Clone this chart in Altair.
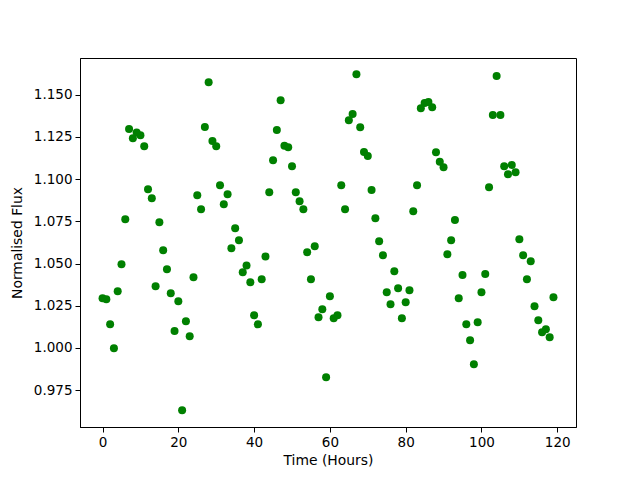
import altair as alt
import pandas as pd

hours = list(range(120))
flux = [
    1.0294, 1.0288, 1.0140, 0.9998, 1.0336, 1.0496, 1.0762, 1.1296, 1.1242, 1.1276,
    1.1260, 1.1195, 1.0940, 1.0887, 1.0366, 1.0745, 1.0579, 1.0466, 1.0324, 1.0101,
    1.0277, 0.9631, 1.0158, 1.0069, 1.0419, 1.0905, 1.0822, 1.1309, 1.1574, 1.1226,
    1.1195, 1.0964, 1.0851, 1.0910, 1.0591, 1.0709, 1.0638, 1.0448, 1.0488, 1.0389,
    1.0194, 1.0140, 1.0407, 1.0541, 1.0922, 1.1112, 1.1290, 1.1467, 1.1197, 1.1189,
    1.1076, 1.0922, 1.0869, 1.0822, 1.0567, 1.0407, 1.0602, 1.0182, 1.0229, 0.9826,
    1.0306, 1.0176, 1.0194, 1.0964, 1.0822, 1.1349, 1.1386, 1.1621, 1.1307, 1.1161,
    1.1136, 1.0936, 1.0768, 1.0632, 1.0549, 1.0330, 1.0259, 1.0454, 1.0354, 1.0176,
    1.0271, 1.0342, 1.0810, 1.0964, 1.1420, 1.1450, 1.1457, 1.1426, 1.1159, 1.1102,
    1.1070, 1.0555, 1.0638, 1.0757, 1.0294, 1.0432, 1.0140, 1.0046, 0.9903, 1.0152,
    1.0330, 1.0438, 1.0952, 1.1379, 1.1610, 1.1379, 1.1076, 1.1029, 1.1084, 1.1040,
    1.0644, 1.0549, 1.0407, 1.0514, 1.0247, 1.0164, 1.0093, 1.0111, 1.0063, 1.0300,
]
x_ticks = [0, 20, 40, 60, 80, 100, 120]
y_ticks = [0.975, 1.000, 1.025, 1.050, 1.075, 1.100, 1.125, 1.150]

df = pd.DataFrame({"Time": hours, "Flux": flux})

chart = alt.Chart(df).mark_circle(size=64, color="#008000", opacity=1).encode(
    x=alt.X("Time:Q", title="Time (Hours)",
            scale=alt.Scale(domain=[-5.95, 124.95], nice=False, zero=False),
            axis=alt.Axis(values=x_ticks, format="d")),
    y=alt.Y("Flux:Q", title="Normalised Flux",
            scale=alt.Scale(domain=[0.9532, 1.1717], nice=False, zero=False),
            axis=alt.Axis(values=y_ticks, format=".3f")),
).properties(
    width=496, height=369,
    autosize=alt.AutoSizeParams(type="none"),
    padding={"left": 72, "top": 50, "right": 56, "bottom": 45},
).configure_view(
    stroke="black", strokeWidth=1
).configure_axis(
    grid=False,
    domainColor="black",
    tickColor="black",
    tickSize=5,
    labelFont="DejaVu Sans",
    labelFontSize=13.5,
    labelColor="black",
    labelPadding=3,
    titleFont="DejaVu Sans",
    titleFontSize=13.9,
    titleFontWeight="normal",
    titleColor="black",
).configure_axisX(
    titlePadding=5,
).configure_axisY(
    titlePadding=9,
)

chart.save("out.html", embed_options={"renderer": "svg", "actions": False})
